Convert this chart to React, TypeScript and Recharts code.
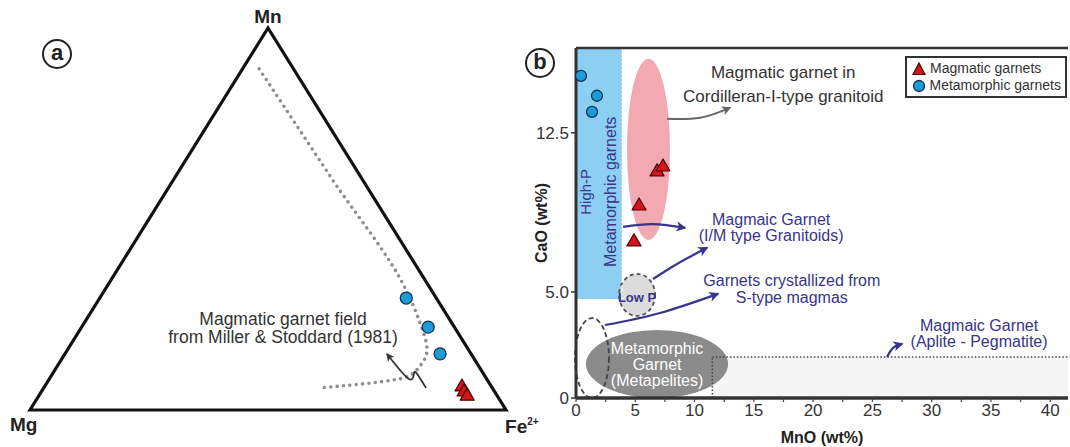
import React from "react";
import {
  ScatterChart, Scatter, XAxis, YAxis, ReferenceArea, ReferenceLine, ReferenceDot, Legend,
} from "recharts";

const FONT = '"Liberation Sans", Arial, Helvetica, sans-serif';
const INK = "#333333";
const NAVY = "#38348a";
const RED = "#d8141b";
const BLUE = "#1d9ad8";

// ---------- panel (a): Mn - Mg - Fe2+ ternary, compositions in %
type Tern = { mg: number; fe: number; mn: number };

const ternCorners: Tern[] = [
  { mg: 100, fe: 0, mn: 0 },
  { mg: 0, fe: 100, mn: 0 },
  { mg: 0, fe: 0, mn: 100 },
];
const ternMagmatic: Tern[] = [
  { mg: 6.1, fe: 87.6, mn: 6.3 },
  { mg: 6.3, fe: 88.7, mn: 5.0 },
  { mg: 6.2, fe: 89.9, mn: 3.9 },
];
const ternMetamorphic: Tern[] = [
  { mg: 6.3, fe: 64.4, mn: 29.3 },
  { mg: 5.5, fe: 72.8, mn: 21.7 },
  { mg: 6.5, fe: 78.8, mn: 14.7 },
];
// edge of the magmatic garnet field, Miller & Stoddard (1981)
const millerStoddard: Tern[] = [
  { mg: 7.2, fe: 3.5, mn: 89.3 },
  { mg: 6.3, fe: 33.4, mn: 60.3 },
  { mg: 5.3, fe: 63.3, mn: 31.4 },
  { mg: 6.5, fe: 69.9, mn: 23.6 },
  { mg: 8.75, fe: 75.55, mn: 15.7 },
  { mg: 12.0, fe: 76.2, mn: 11.8 },
  { mg: 16.7, fe: 74.7, mn: 8.6 },
  { mg: 24.65, fe: 68.25, mn: 7.1 },
  { mg: 36.0, fe: 58.2, mn: 5.8 },
];
// annotations in projected plot units (0..1)
const squiggleArrow = [
  { x: 0.832, y: 0.0576 },
  { x: 0.815, y: 0.0916 },
  { x: 0.807, y: 0.0969 },
  { x: 0.796, y: 0.0812 },
  { x: 0.75, y: 0.1466 },
];
const fieldNote = { x: 0.5315, y: 0.2225, lines: ["Magmatic garnet field", "from Miller & Stoddard (1981)"] };
const cornerLabels = [
  { x: 0.5, y: 1.013, text: "Mn", sup: "", anchor: "middle" },
  { x: -0.042, y: -0.055, text: "Mg", sup: "", anchor: "start" },
  { x: 0.998, y: -0.06, text: "Fe", sup: "2+", anchor: "start" },
];

const toXY = (t: Tern) => {
  const s = t.mg + t.fe + t.mn;
  return { x: (t.fe + t.mn / 2) / s, y: t.mn / s };
};

// ---------- panel (b): CaO vs MnO (wt%)
const magmaticMnO = [6.84, 7.34, 5.32, 4.89];
const magmaticCaO = [10.71, 10.94, 9.1, 7.41];
const metamorphicMnO = [0.42, 1.77, 1.35];
const metamorphicCaO = [15.19, 14.25, 13.49];

const mnoTicks = [0, 2.5, 5, 7.5, 10, 12.5, 15, 17.5, 20, 22.5, 25, 27.5, 30, 32.5, 35, 37.5, 40];
const caoTicks = [0, 5, 12.5];

const highPField = { x1: 0, x2: 3.88, y1: 4.67, y2: 16.5 };
const cordilleranField = { x1: 4.3, x2: 7.93, y1: 7.45, y2: 15.99 };
const lowPField = { x1: 3.63, x2: 6.67, y1: 3.87, y2: 5.85 };
const sTypeField = { x1: -0.08, x2: 2.78, y1: 0, y2: 3.77 };
const metapeliteField = { x1: 0.84, x2: 12.83, y1: 0, y2: 3.21 };
const apliteField = { x1: 11.5, x2: 41.5, y1: 0, y2: 1.93 };

const arrowCordilleran = [{ x: 7.68, y: 13.16 }, { x: 10.46, y: 13.21 }, { x: 12.99, y: 13.68 }];
const arrowIM = [{ x: 3.97, y: 8.07 }, { x: 6.5, y: 8.2 }, { x: 9.2, y: 8.02 }];
const arrowLowP = [{ x: 6.5, y: 5.61 }, { x: 8.52, y: 6.32 }, { x: 11.05, y: 7.08 }];
const arrowSType = [{ x: 2.45, y: 3.44 }, { x: 7.09, y: 4.01 }, { x: 11.98, y: 4.91 }];
const arrowAplite = [{ x: 26.24, y: 1.93 }, { x: 26.75, y: 2.36 }, { x: 27.51, y: 2.55 }];

const cordilleranNote = { x: 17.48, y: 15.09, lines: ["Magmatic garnet in", "Cordilleran-I-type granitoid"] };
const imNote = { x: 16.46, y: 8.16, lines: ["Magmaic Garnet", "(I/M type Granitoids)"] };
const sTypeNote = { x: 18.2, y: 5.27, lines: ["Garnets crystallized from", "S-type magmas"] };
const apliteNote = { x: 34.0, y: 3.16, lines: ["Magmaic Garnet", "(Aplite - Pegmatite)"] };
const metapeliteNote = { x: 6.84, y: 2.08, lines: ["Metamorphic", "Garnet", "(Metapelites)"] };
const lowPNote = { x: 5.15, y: 4.53, lines: ["Low P"] };
const verticalNotes = [
  { x: 0.76, y: 9.72, text: "High-P", size: 15 },
  { x: 2.87, y: 9.72, text: "Metamorphic garnets", size: 16 },
];

const legendNames = ["Magmatic garnets", "Metamorphic garnets"];

const blank = () => <g />;

const circleShape = (r: number) => (p: any) => (
  <circle cx={p.cx} cy={p.cy} r={r} fill={BLUE} stroke="#12334d" strokeWidth={1.3} />
);
const triangleShape = (h: number) => (p: any) => (
  <polygon
    points={`${p.cx},${p.cy - h} ${p.cx - h},${p.cy + h * 0.72} ${p.cx + h},${p.cy + h * 0.72}`}
    fill={RED}
    stroke="#4a0000"
    strokeWidth={1.2}
    strokeLinejoin="round"
  />
);

const ellipseShape = (fill: string, stroke = "none", dash = "") => (p: any) => (
  <ellipse
    cx={p.x + p.width / 2}
    cy={p.y + p.height / 2}
    rx={Math.abs(p.width) / 2}
    ry={Math.abs(p.height) / 2}
    fill={fill}
    stroke={stroke}
    strokeWidth={1.8}
    strokeDasharray={dash || undefined}
  />
);

// one text block, first line's baseline sits on the anchor point
const noteBlock = (
  n: { x: number; y: number; lines: string[] },
  key: string,
  fill: string,
  size: number,
  gap: number,
  weight: string = "normal",
) => (
  <ReferenceDot
    key={key}
    x={n.x}
    y={n.y}
    ifOverflow="visible"
    shape={(p: any) => (
      <text x={p.cx} y={p.cy} textAnchor="middle" fill={fill} fontSize={size} fontWeight={weight} fontFamily={FONT}>
        {n.lines.map((l, i) => (
          <tspan key={i} x={p.cx} dy={i === 0 ? 0 : gap}>
            {l}
          </tspan>
        ))}
      </text>
    )}
  />
);

const Marker = ({ id, color }: { id: string; color: string }) => (
  <marker id={id} viewBox="0 0 10 10" refX="8.5" refY="5" markerWidth="4.6" markerHeight="4.6" orient="auto">
    <path d="M0,0 L10,5 L0,10 L2.6,5 z" fill={color} />
  </marker>
);

function TernaryPanel() {
  return (
    <ScatterChart width={546} height={447} margin={{ top: 28, right: 40, bottom: 37, left: 30 }}>
      <defs>
        <Marker id="headInk" color="#333" />
      </defs>
      <XAxis type="number" dataKey="x" domain={[0, 1]} hide />
      <YAxis type="number" dataKey="y" domain={[0, 1]} hide />
      <Scatter
        data={ternCorners.map(toXY)}
        line={{ stroke: "#111", strokeWidth: 3.2, strokeLinejoin: "miter" }}
        lineJointType="linearClosed"
        shape={blank}
        legendType="none"
        isAnimationActive={false}
      />
      <Scatter
        data={millerStoddard.map(toXY)}
        line={{ stroke: "#8e8e8e", strokeWidth: 3.6, strokeDasharray: "0 6.4", strokeLinecap: "round" }}
        lineJointType="monotoneY"
        shape={blank}
        legendType="none"
        isAnimationActive={false}
      />
      <Scatter
        data={squiggleArrow}
        line={{ stroke: "#333", strokeWidth: 1.8, markerEnd: "url(#headInk)" }}
        lineJointType="natural"
        shape={blank}
        legendType="none"
        isAnimationActive={false}
      />
      <Scatter data={ternMetamorphic.map(toXY)} shape={circleShape(6)} legendType="none" isAnimationActive={false} />
      <Scatter data={ternMagmatic.map(toXY)} shape={triangleShape(7)} legendType="none" isAnimationActive={false} />
      {noteBlock(fieldNote, "field", INK, 17.5, 18)}
      {cornerLabels.map((c) => (
        <ReferenceDot
          key={c.text}
          x={c.x}
          y={c.y}
          ifOverflow="visible"
          shape={(p: any) => (
            <text x={p.cx} y={p.cy} textAnchor={c.anchor as any} fill="#222" fontSize={19} fontWeight="bold" fontFamily={FONT}>
              {c.text}
              {c.sup ? (
                <tspan fontSize={10} dy={-8}>
                  {c.sup}
                </tspan>
              ) : null}
            </text>
          )}
        />
      ))}
    </ScatterChart>
  );
}

const MnoTick = (p: any) =>
  p.payload.value % 5 === 0 ? (
    <text x={p.x} y={p.y} dy="0.71em" textAnchor="middle" fill={INK} fontSize={17} fontFamily={FONT}>
      {p.payload.value}
    </text>
  ) : (
    <g />
  );

const MnoLabel = (p: any) => {
  const vb = p.viewBox || {};
  return (
    <text x={vb.x + vb.width / 2} y={vb.y + 45} textAnchor="middle" fill="#222" fontSize={16} fontWeight="bold" fontFamily={FONT}>
      MnO (wt%)
    </text>
  );
};

const CaoLabel = (p: any) => {
  const vb = p.viewBox || {};
  const x = vb.x + 1;
  const y = vb.y + vb.height / 2;
  return (
    <text x={x} y={y} transform={`rotate(-90 ${x} ${y})`} textAnchor="middle" dominantBaseline="central" fill="#222" fontSize={16} fontWeight="bold" fontFamily={FONT}>
      CaO (wt%)
    </text>
  );
};

const LegendBox = ({ payload }: any) => {
  const entries = (payload || [])
    .filter((e: any) => legendNames.includes(e.value))
    .sort((a: any, b: any) => legendNames.indexOf(a.value) - legendNames.indexOf(b.value));
  return (
    <div style={{ border: "2px solid #333", background: "#fff", padding: "2px 4px 2px 5px", fontFamily: FONT, fontSize: 14, color: INK, lineHeight: "17px" }}>
      {entries.map((e: any) => (
        <div key={e.value} style={{ display: "flex", alignItems: "center", gap: 4, whiteSpace: "nowrap" }}>
          <svg width={14} height={14}>
            {e.value === legendNames[0] ? (
              <polygon points="7,1 1,12.5 13,12.5" fill={RED} stroke="#4a0000" strokeWidth={1.2} />
            ) : (
              <circle cx={7} cy={7} r={5.5} fill={BLUE} stroke="#12334d" strokeWidth={1.3} />
            )}
          </svg>
          <span>{e.value}</span>
        </div>
      ))}
    </div>
  );
};

function CaoMnoPanel() {
  const magmatic = magmaticMnO.map((x, i) => ({ x, y: magmaticCaO[i] }));
  const metamorphic = metamorphicMnO.map((x, i) => ({ x, y: metamorphicCaO[i] }));
  return (
    <ScatterChart width={550} height={447} margin={{ top: 48, right: 2, bottom: 19, left: 20 }}>
      <defs>
        <Marker id="headNavy" color={NAVY} />
        <Marker id="headGray" color="#666" />
      </defs>
      <XAxis
        type="number"
        dataKey="x"
        domain={[0, 41.5]}
        ticks={mnoTicks}
        interval={0}
        height={30}
        tickSize={4}
        axisLine={{ stroke: "#333", strokeWidth: 3.5 }}
        tickLine={{ stroke: "#444", strokeWidth: 1.2 }}
        tick={MnoTick}
        label={MnoLabel}
      />
      <YAxis
        type="number"
        dataKey="y"
        domain={[0, 16.5]}
        ticks={caoTicks}
        interval={0}
        width={36}
        tickSize={5}
        axisLine={{ stroke: "#333", strokeWidth: 3 }}
        tickLine={{ stroke: "#333", strokeWidth: 1.5 }}
        tick={{ fill: INK, fontSize: 17, fontFamily: FONT }}
        tickFormatter={(v: number) => (v === 0 ? "0" : v.toFixed(1))}
        label={CaoLabel}
      />

      <ReferenceArea {...apliteField} ifOverflow="visible" fill="#f5f5f5" fillOpacity={1} stroke="none" />
      <ReferenceArea {...highPField} ifOverflow="visible" fill="#8dcff2" fillOpacity={1} stroke="none" />
      <ReferenceLine segment={[{ x: highPField.x2, y: highPField.y1 }, { x: highPField.x2, y: highPField.y2 }]} ifOverflow="visible" stroke="#fff" strokeWidth={1} strokeDasharray="2 2" />
      <ReferenceArea {...cordilleranField} ifOverflow="visible" shape={ellipseShape("#f2a9b1")} />
      <ReferenceArea {...lowPField} ifOverflow="visible" shape={ellipseShape("#dcdcdc", "#555", "4 3")} />
      <ReferenceArea {...metapeliteField} ifOverflow="visible" shape={ellipseShape("#8b8b8b")} />
      <ReferenceArea {...sTypeField} ifOverflow="visible" shape={ellipseShape("none", "#444", "5 3")} />
      <ReferenceLine segment={[{ x: apliteField.x1, y: apliteField.y2 }, { x: apliteField.x2, y: apliteField.y2 }]} ifOverflow="visible" stroke="#444" strokeWidth={1.5} strokeDasharray="1.5 2" />
      <ReferenceLine segment={[{ x: apliteField.x1, y: apliteField.y1 }, { x: apliteField.x1, y: apliteField.y2 }]} ifOverflow="visible" stroke="#444" strokeWidth={1.5} strokeDasharray="1.5 2" />
      <ReferenceLine y={16.5} stroke="#333" strokeWidth={2.5} />

      <Scatter data={arrowCordilleran} line={{ stroke: "#666", strokeWidth: 2, markerEnd: "url(#headGray)" }} lineJointType="natural" shape={blank} legendType="none" isAnimationActive={false} />
      <Scatter data={arrowIM} line={{ stroke: NAVY, strokeWidth: 2.2, markerEnd: "url(#headNavy)" }} lineJointType="natural" shape={blank} legendType="none" isAnimationActive={false} />
      <Scatter data={arrowLowP} line={{ stroke: NAVY, strokeWidth: 2.2, markerEnd: "url(#headNavy)" }} lineJointType="natural" shape={blank} legendType="none" isAnimationActive={false} />
      <Scatter data={arrowSType} line={{ stroke: NAVY, strokeWidth: 2.2, markerEnd: "url(#headNavy)" }} lineJointType="natural" shape={blank} legendType="none" isAnimationActive={false} />
      <Scatter data={arrowAplite} line={{ stroke: NAVY, strokeWidth: 2.2, markerEnd: "url(#headNavy)" }} lineJointType="natural" shape={blank} legendType="none" isAnimationActive={false} />

      <Scatter name="Magmatic garnets" data={magmatic} shape={triangleShape(7)} isAnimationActive={false} />
      <Scatter name="Metamorphic garnets" data={metamorphic} shape={circleShape(5.5)} isAnimationActive={false} />

      {noteBlock(cordilleranNote, "cord", INK, 17, 24)}
      {noteBlock(imNote, "im", NAVY, 16, 16.5)}
      {noteBlock(sTypeNote, "stype", NAVY, 16, 16.5)}
      {noteBlock(apliteNote, "aplite", NAVY, 16, 16.5)}
      {noteBlock(metapeliteNote, "metap", "#fff", 16, 16)}
      {noteBlock(lowPNote, "lowp", NAVY, 13, 0, "bold")}
      {verticalNotes.map((n) => (
        <ReferenceDot
          key={n.text}
          x={n.x}
          y={n.y}
          ifOverflow="visible"
          shape={(p: any) => (
            <text x={p.cx} y={p.cy} transform={`rotate(-90 ${p.cx} ${p.cy})`} textAnchor="middle" dominantBaseline="central" fill={NAVY} fontSize={n.size} fontFamily={FONT}>
              {n.text}
            </text>
          )}
        />
      ))}

      <Legend layout="vertical" align="center" verticalAlign="middle" wrapperStyle={{ left: 385, top: 56, width: 162 }} content={LegendBox} />
    </ScatterChart>
  );
}

const PanelTag = ({ letter, cx, cy }: { letter: string; cx: number; cy: number }) => (
  <div
    style={{
      position: "absolute",
      left: cx - 15,
      top: cy - 15,
      width: 30,
      height: 30,
      boxSizing: "border-box",
      border: "2.5px solid #222",
      borderRadius: "50%",
      display: "flex",
      alignItems: "center",
      justifyContent: "center",
      fontFamily: FONT,
      fontWeight: "bold",
      fontSize: 22,
      lineHeight: 1,
      color: "#222",
      paddingBottom: 3,
    }}
  >
    {letter}
  </div>
);

export default function App() {
  return (
    <div style={{ position: "absolute", left: 0, top: 0, width: 1070, height: 447, background: "#fff", overflow: "hidden", fontFamily: FONT }}>
      <div style={{ position: "absolute", left: 0, top: 0 }}>
        <TernaryPanel />
      </div>
      <div style={{ position: "absolute", left: 520, top: 0 }}>
        <CaoMnoPanel />
      </div>
      <PanelTag letter="a" cx={57} cy={54} />
      <PanelTag letter="b" cx={540} cy={63} />
    </div>
  );
}
